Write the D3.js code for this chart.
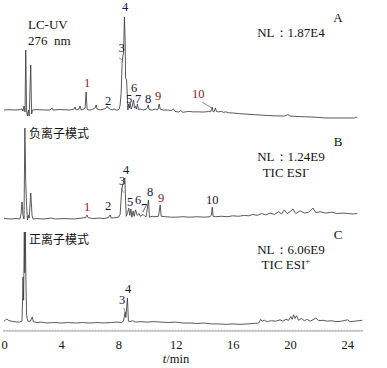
<!DOCTYPE html>
<html>
<head>
<meta charset="utf-8">
<script src="https://cdn.jsdelivr.net/npm/d3@7/dist/d3.min.js"></script>
<style>
  html, body { margin: 0; padding: 0; background: #fff; }
  svg { display: block; }
  text { font-family: "Liberation Serif", "Times New Roman", "DejaVu Serif", serif; fill: #141414; }
  text.cjk { font-family: "Noto Sans CJK SC", sans-serif; }
</style>
</head>
<body>
<svg id="chart" width="387" height="368"></svg>
<script>
// ---------- DATA (time in min, relative intensity %) ----------
const xTicks = [0, 4, 8, 12, 16, 20, 24];
const xTitle = "min";

const traceA = [
  [0,0],[0.42,0.3],[0.84,0],[1.12,0.5],[1.26,1.1],[1.33,-1.1],[1.40,4.3],[1.47,-2.2],[1.52,64.5],[1.58,-2],
  [1.64,-6.5],[1.71,0],[1.76,-6.5],[1.87,48.4],[1.93,-4.3],[1.99,0],[2.24,0.5],[2.87,0],[3.22,0],[3.36,2.2],
  [3.43,0],[3.92,0.5],[4.62,0],[4.90,1.1],[4.97,3.2],[5.04,0],[5.25,1.1],[5.32,4.3],[5.39,0],[5.53,0.5],
  [5.67,2.2],[5.74,19.4],[5.81,1.1],[5.88,0],[6.09,0],[6.37,2.2],[6.44,5.4],[6.51,1.1],[6.72,0],[7.00,1.1],
  [7.14,2.2],[7.21,4],[7.28,2.2],[7.42,1.1],[7.56,0],[7.70,1.1],[7.84,0],[7.98,0],[8.05,1.1],[8.12,5.4],
  [8.19,18],[8.26,50],[8.30,57],[8.36,62],[8.42,100],[8.47,75],[8.50,34.4],[8.57,32.3],[8.62,16.1],[8.66,0],
  [8.71,6.5],[8.76,2.2],[8.82,7.5],[8.89,1],[8.96,4],[9.06,10.8],[9.12,2],[9.19,4],[9.26,1],[9.33,6.5],
  [9.40,0.5],[9.52,1.1],[9.73,0],[9.94,1],[10.01,2],[10.08,5.4],[10.15,0.5],[10.36,0],[10.57,1],[10.71,0],
  [10.78,1.1],[10.85,6.5],[10.92,1],[11.13,0],[11.4,0],[11.7,-0.5],[11.85,1],[11.95,-1.5],[12.2,-2.2],[12.35,-0.5],
  [12.5,-2.5],[12.7,-2],[12.9,-1.5],[13.2,-2],[13.6,-2],[13.9,-2.2],[14.1,-2],[14.3,-1.5],[14.45,-2],[14.56,3.2],
  [14.62,-2],[14.7,-1.5],[14.78,2.2],[14.85,-1.5],[15.0,-2],[15.2,-1.5],[15.35,-2.5],[15.5,-2],[15.7,-3],[16,-3.2],
  [16.5,-4],[17,-4.5],[17.5,-5],[18,-5.5],[18.5,-6],[19,-6.3],[19.6,-6.5],[19.85,-5],[20,-6.5],[20.5,-7],
  [21,-7.3],[21.5,-7.5],[22,-8],[22.5,-8.6],[23,-8.6],[23.5,-8.6],[24,-8.6],[24.5,-8.6],[24.62,-7.5],[24.7,-8.3]
];

const traceB = [
  [0,0.5],[0.5,0],[0.84,0.5],[1.12,0],[1.19,5.5],[1.26,18.7],[1.33,4],[1.40,0],[1.46,100],[1.52,40],
  [1.58,15],[1.64,-1.1],[1.71,4],[1.76,1],[1.87,28.6],[1.96,4],[2.03,0],[2.3,0.5],[2.8,0],[3.3,1],
  [3.6,0],[4.2,0.5],[4.9,0],[5.4,1],[5.70,1.5],[5.80,4.4],[5.88,1.5],[6.2,0.5],[6.7,1],[7.0,0.5],
  [7.3,1.5],[7.42,4.4],[7.5,1],[7.8,1.5],[8.0,2],[8.12,5],[8.22,30],[8.29,37.4],[8.35,40],[8.45,45.1],
  [8.50,20],[8.55,3],[8.64,7],[8.72,12],[8.80,4],[8.87,11],[8.94,2],[9.03,9],[9.10,3],[9.2,10],
  [9.31,4],[9.45,6],[9.52,3],[9.73,5],[9.85,3],[9.94,2.5],[10.10,20.9],[10.17,2],[10.36,3],[10.5,2.5],
  [10.8,3],[10.92,15.4],[10.99,3],[11.3,2.5],[11.7,2],[12,2],[12.5,2.5],[13,2],[13.5,2.5],[14,2],
  [14.4,2.5],[14.5,4],[14.56,13],[14.62,3],[14.8,2.5],[15.2,3],[15.6,2.5],[16,3.5],[16.4,3],[16.8,4],
  [17.1,3.5],[17.4,5],[17.7,4],[18,6],[18.3,4.5],[18.6,6.5],[18.9,5],[19.2,8],[19.4,5.5],[19.6,10],
  [19.8,6],[20.0,8],[20.2,11],[20.4,6],[20.7,9],[21.0,6.5],[21.3,7.5],[21.6,12],[21.8,7],[22.1,8],
  [22.5,6.5],[22.9,7.5],[23.3,6],[23.7,6.5],[24.1,6],[24.4,5.5],[24.7,6]
];

const traceC = [
  [0.0,2],[0.1,3.3],[0.2,4.4],[0.3,3],[0.5,2],[0.7,1.5],[0.9,1.1],[1.1,1],[1.26,2],[1.33,50.5],
  [1.37,25],[1.42,100],[1.45,55],[1.49,100],[1.54,40],[1.58,9],[1.62,5],[1.68,2],[1.85,2],[1.98,6.6],
  [2.05,1.5],[2.3,0.5],[2.6,1],[3,0],[3.5,0.5],[4,0],[4.5,0.5],[5,0],[5.5,0.5],[6,0],
  [6.5,0.5],[7,0],[7.5,0.5],[7.9,1],[8.2,0.5],[8.35,2],[8.47,12],[8.52,6],[8.63,27.5],[8.70,2],
  [8.8,1.5],[9.0,2.5],[9.2,1],[9.5,1.5],[10,1],[10.5,1.5],[11,1],[11.5,0.5],[12,1],[12.5,0],
  [13,0],[13.5,-0.5],[14,0],[14.5,-1],[15,-1],[15.5,-1.5],[16,-1],[16.5,-1.5],[17,-1],[17.5,-0.5],
  [17.8,0],[17.95,4],[18.05,2],[18.2,3],[18.4,1.5],[18.7,2.5],[19.0,2],[19.3,3.5],[19.5,2],[19.7,4],
  [19.9,3],[20.05,7],[20.15,4],[20.25,9],[20.35,5],[20.45,8],[20.6,3],[20.8,5],[21.0,2.5],[21.2,4],
  [21.4,2],[21.6,3.5],[21.8,5.5],[22.0,2.5],[22.3,3],[22.6,2],[22.9,2.5],[23.2,1.5],[23.6,2],[24.0,3.5],
  [24.2,1.5],[24.5,2],[24.8,2.5],[25.05,3]
];

// peak labels: [text, t, v]  (anchor in data units of each panel)
const peaksA = [["1",5.81,24.7],["2",7.28,5.4],["3",8.22,62.4],["4",8.47,106.4],["5",8.75,7.5],
                ["6",9.10,19.4],["7",9.38,7.5],["8",10.08,7.5],["9",10.78,10.8],["10",13.58,12.9]];
const peaksB = [["1",5.81,8.8],["2",7.28,9.9],["3",8.26,37.4],["4",8.54,49.5],["5",8.82,14.3],
                ["6",9.38,16.5],["7",9.80,7.7],["8",10.22,25.3],["9",10.99,18.7],["10",14.56,16.5]];
const peaksC = [["3",8.26,20.9],["4",8.68,33]];

// leader lines: [t1, v1, t2, v2]
const leadersA = [[8.05,56,8.26,54],[13.85,8.6,14.48,2.5]];
const leadersB = [[8.19,34,8.35,29]];
const leadersC = [[8.38,16.5,8.48,11]];

const nlA = "NL：1.87E4", nlB = "NL：1.24E9", nlC = "NL：6.06E9";
const ticB = ["TIC ESI", "-"], ticC = ["TIC ESI", "+"];

// ---------- DRAW ----------
const SERIF = "'Liberation Serif', 'Times New Roman', 'DejaVu Serif', serif";
const svg = d3.select("#chart");
const x = d3.scaleLinear().domain([0, 25.1]).range([4, 363]);

const panels = [
  {data: traceA, peaks: peaksA, leaders: leadersA, y: d3.scaleLinear().domain([0,100]).range([110,17]),
   letter: "A", letterY: 22, nl: nlA, nlY: 37, tic: null},
  {data: traceB, peaks: peaksB, leaders: leadersB, y: d3.scaleLinear().domain([0,100]).range([219,128]),
   letter: "B", letterY: 146, nl: nlB, nlY: 161, tic: ticB, ticY: 177, mode: "负离子模式", modeY: 138},
  {data: traceC, peaks: peaksC, leaders: leadersC, y: d3.scaleLinear().domain([0,100]).range([323,232]),
   letter: "C", letterY: 239, nl: nlC, nlY: 254, tic: ticC, ticY: 269, mode: "正离子模式", modeY: 244}
];

const redLabels = new Set(["A1","A9","A10","B1","B9"]);

panels.forEach(p => {
  const line = d3.line().x(d => x(d[0])).y(d => p.y(d[1]));
  svg.append("path").datum(p.data)
    .attr("d", line).attr("fill", "none")
    .attr("stroke", "#3c3c3c").attr("stroke-width", 0.85).attr("stroke-linejoin", "round");

  svg.selectAll(null).data(p.leaders).enter().append("line")
    .attr("x1", d => x(d[0])).attr("y1", d => p.y(d[1]))
    .attr("x2", d => x(d[2])).attr("y2", d => p.y(d[3]))
    .attr("stroke", "#555").attr("stroke-width", 0.7);

  svg.selectAll(null).data(p.peaks).enter().append("text")
    .attr("x", d => x(d[1])).attr("y", d => p.y(d[2]))
    .attr("text-anchor", "middle").attr("font-size", 12.5).attr("font-family", SERIF)
    .style("fill", d => redLabels.has(p.letter + d[0]) ? "#8a2020" : "#16163a")
    .text(d => d[0]);

  svg.append("text").attr("x", 338).attr("y", p.letterY).attr("font-family", SERIF)
    .attr("text-anchor", "middle").attr("font-size", 13).text(p.letter);
  svg.append("text").attr("x", 291).attr("y", p.nlY).attr("font-family", SERIF)
    .attr("text-anchor", "middle").attr("font-size", 13).text(p.nl);
  if (p.tic) {
    const t = svg.append("text").attr("x", 286).attr("y", p.ticY).attr("font-family", SERIF)
      .attr("text-anchor", "middle").attr("font-size", 13);
    t.append("tspan").text(p.tic[0]);
    t.append("tspan").attr("dy", -5).attr("font-size", 9).text(p.tic[1]);
  }
  if (p.mode) {
    svg.append("text").attr("class", "cjk").attr("x", 29).attr("y", p.modeY)
      .attr("font-size", 12).text(p.mode);
  }
});

// LC-UV label
svg.append("text").attr("x", 28).attr("y", 29).attr("font-size", 13).attr("font-family", SERIF).text("LC-UV");
svg.append("text").attr("x", 28).attr("y", 45).attr("font-size", 13).attr("font-family", SERIF)
  .attr("xml:space", "preserve").text("276  nm");

// ---------- AXIS ----------
const axisY = 331;
svg.append("line").attr("x1", x(0) - 1).attr("x2", x(25.1)).attr("y1", axisY).attr("y2", axisY)
  .attr("stroke", "#777").attr("stroke-width", 0.7);
const minor = d3.range(0, 25.05, 0.2);
svg.selectAll(null).data(minor).enter().append("line")
  .attr("x1", d => x(d)).attr("x2", d => x(d))
  .attr("y1", axisY).attr("y2", axisY - 1.6)
  .attr("stroke", "#aaa").attr("stroke-width", 0.5);

const xAxis = d3.axisBottom(x).tickValues(xTicks).tickSize(0).tickPadding(0).tickFormat(d3.format("d"));
const ax = svg.append("g").attr("transform", `translate(0,${axisY})`).call(xAxis);
ax.select(".domain").remove();
ax.selectAll("text").attr("dy", null).attr("y", 17.5).attr("font-size", 12.5)
  .style("font-family", SERIF).style("fill", "#141414");

const tt = svg.append("text").attr("x", 176).attr("y", 363).attr("text-anchor", "middle")
  .attr("font-size", 12.5).attr("font-family", SERIF);
tt.append("tspan").attr("font-style", "italic").text("t");
tt.append("tspan").text("/" + xTitle);
</script>
</body>
</html>
